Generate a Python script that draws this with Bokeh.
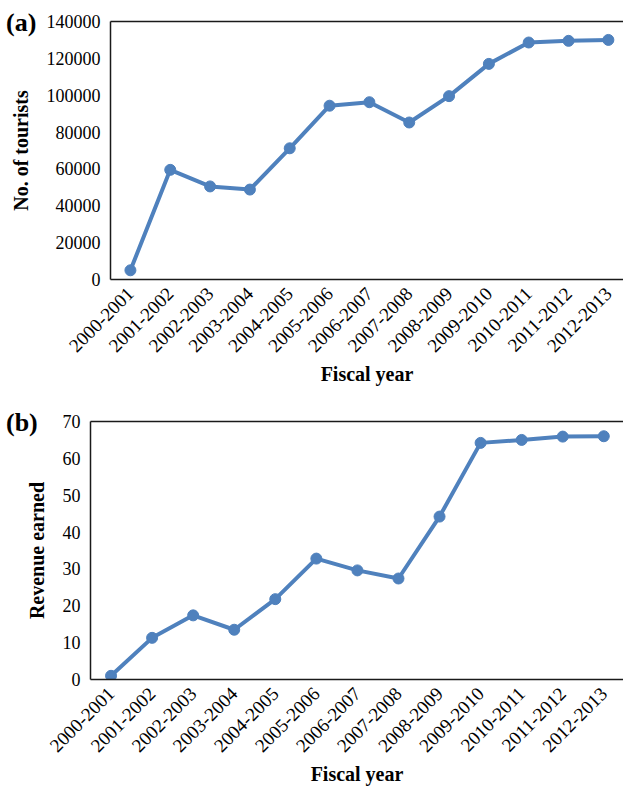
import math
from bokeh.plotting import figure
from bokeh.models import FixedTicker, LinearAxis, Range1d, BasicTickFormatter, Div
from bokeh.embed import file_html
from bokeh.resources import INLINE

fiscal_years = ["2000-2001", "2001-2002", "2002-2003", "2003-2004", "2004-2005",
                "2005-2006", "2006-2007", "2007-2008", "2008-2009", "2009-2010",
                "2010-2011", "2011-2012", "2012-2013"]
tourists = [5000, 59500, 50500, 48800, 71200, 94300, 96200, 85200, 99500,
            117000, 128600, 129500, 130000]
revenue = [1.0, 11.3, 17.4, 13.5, 21.8, 32.8, 29.6, 27.4, 44.2, 64.2, 65.0, 65.9, 66.0]
tourist_ticks = [0, 20000, 40000, 60000, 80000, 100000, 120000, 140000]
revenue_ticks = [0, 10, 20, 30, 40, 50, 60, 70]

FONT = "Liberation Serif"
BLUE = "#4F81BD"
AXC = "#1a1a1a"
W = 623


def panel(values, yticks, ylabel, height, left, top, bottom, xend):
    xs = list(range(len(fiscal_years)))
    p = figure(width=W, height=height, output_backend="svg", toolbar_location=None,
               x_range=Range1d(-0.5, xend), y_range=Range1d(yticks[0], yticks[-1]),
               min_border_left=left, min_border_top=top, min_border_bottom=bottom,
               min_border_right=0)
    p.outline_line_color = None
    p.xgrid.visible = False
    p.ygrid.visible = False
    p.line(xs, values, line_color=BLUE, line_width=4)
    p.scatter(xs, values, size=11, fill_color=BLUE, line_color=BLUE)

    xa = p.xaxis[0]
    xa.ticker = FixedTicker(ticks=xs)
    xa.major_label_overrides = {i: s for i, s in enumerate(fiscal_years)}
    xa.major_label_orientation = math.pi / 4
    xa.major_label_text_font = FONT
    xa.major_label_text_font_size = "19px"
    xa.major_label_text_color = "black"
    xa.major_label_standoff = 5
    xa.major_tick_line_color = None
    xa.minor_tick_line_color = None
    xa.axis_line_color = AXC
    xa.axis_line_width = 1.5
    xa.axis_label = "Fiscal year"
    xa.axis_label_text_font = FONT
    xa.axis_label_text_font_style = "bold"
    xa.axis_label_text_font_size = "20px"
    xa.axis_label_text_color = "black"
    xa.axis_label_standoff = 2

    ya = p.yaxis[0]
    ya.ticker = FixedTicker(ticks=yticks)
    ya.formatter = BasicTickFormatter(use_scientific=False)
    ya.major_label_text_font = FONT
    ya.major_label_text_font_size = "18px"
    ya.major_label_text_color = "black"
    ya.major_label_standoff = 4
    ya.major_tick_line_color = None
    ya.minor_tick_line_color = None
    ya.axis_line_color = AXC
    ya.axis_line_width = 1.5
    ya.axis_label = ylabel
    ya.axis_label_text_font = FONT
    ya.axis_label_text_font_style = "bold"
    ya.axis_label_text_font_size = "20px"
    ya.axis_label_text_color = "black"
    ya.axis_label_standoff = 12

    top_axis = LinearAxis(ticker=FixedTicker(ticks=[]), major_tick_line_color=None,
                          minor_tick_line_color=None, axis_line_color=AXC,
                          axis_line_width=1.5)
    p.add_layout(top_axis, "above")
    return p


def tag(text, left, top):
    return Div(text=text, width=45, height=30,
               styles={"position": "absolute", "left": f"{left}px", "top": f"{top}px",
                       "margin": "0", "font-family": FONT, "font-weight": "bold",
                       "font-size": "26px", "line-height": "1", "color": "black"})


pa = panel(tourists, tourist_ticks, "No. of tourists", 399, 110, 21, 120, 12.38)
pb = panel(revenue, revenue_ticks, "Revenue earned", 388, 90, 22, 108, 12.48)
ta = tag("(a)", 6, 10)
tb = tag("(b)", 6, 410)

open("out.html", "w").write(file_html([pa, pb, ta, tb], INLINE))
